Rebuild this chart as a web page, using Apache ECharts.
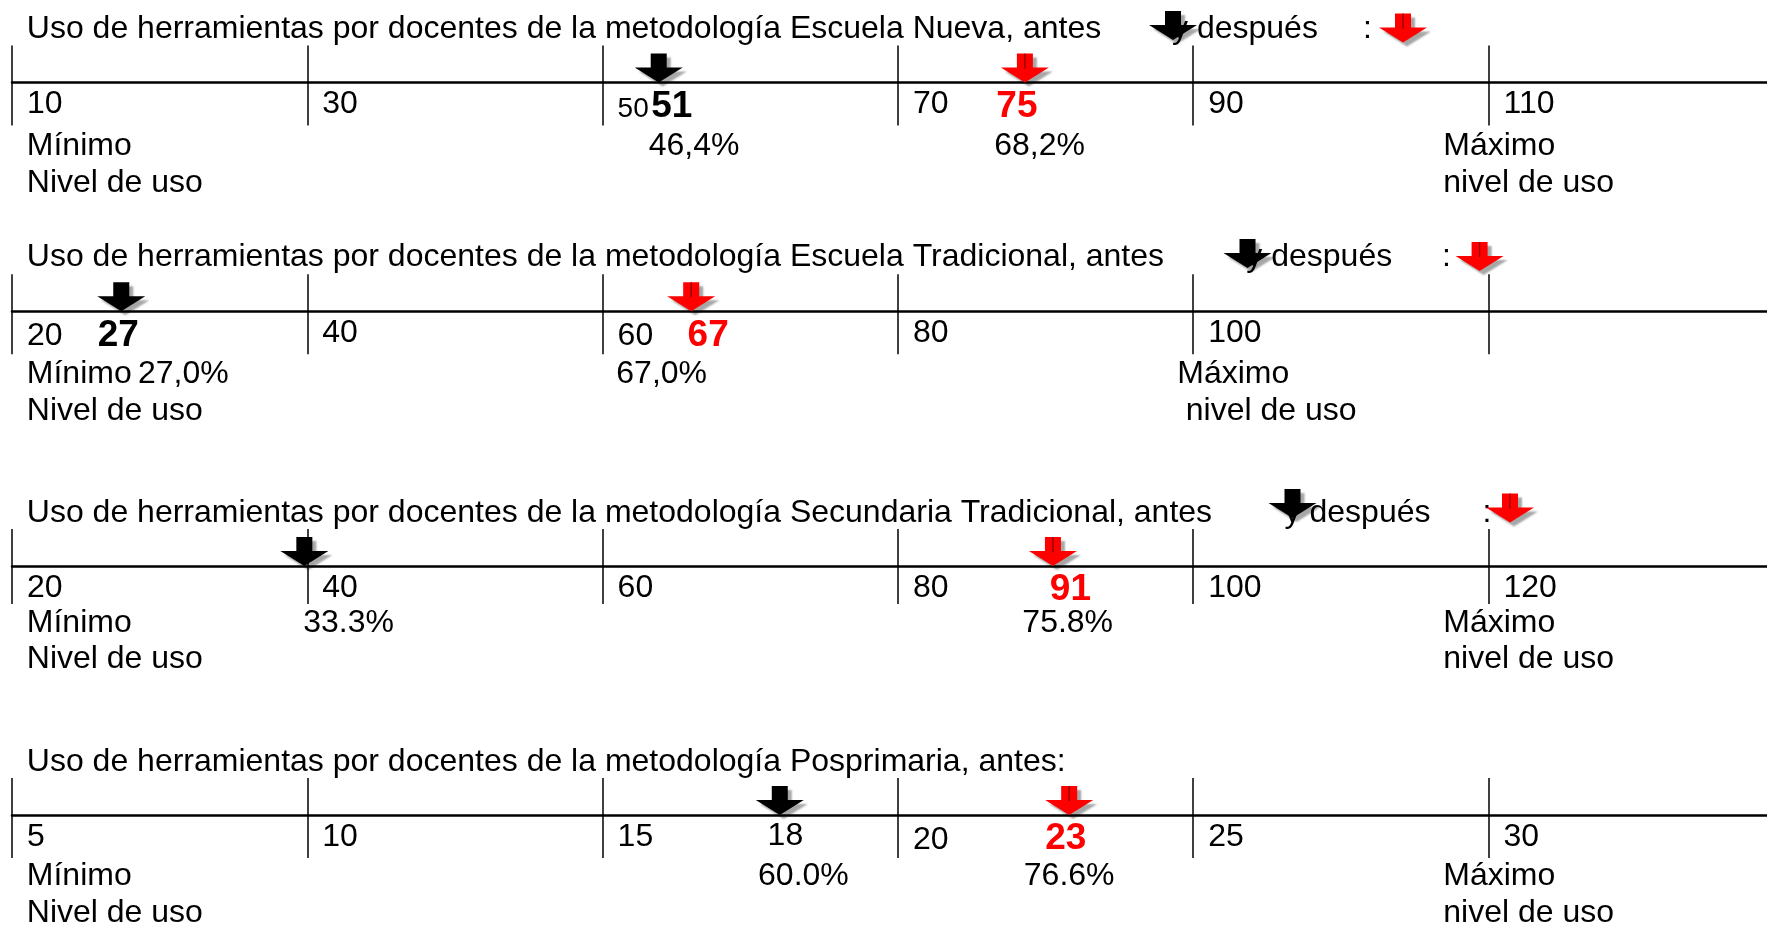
<!DOCTYPE html>
<html><head><meta charset="utf-8">
<script src="https://cdn.jsdelivr.net/npm/echarts@6/dist/echarts.min.js"></script>
<style>html,body{margin:0;padding:0;background:#fff}#c{width:1767px;height:925px}</style>
</head><body><div id="c"></div>
<script>
// ---------- data ----------
const panelTitles = [
  'Uso de herramientas por docentes de la metodología Escuela Nueva, antes',
  'Uso de herramientas por docentes de la metodología Escuela Tradicional, antes',
  'Uso de herramientas por docentes de la metodología Secundaria Tradicional, antes',
  'Uso de herramientas por docentes de la metodología Posprimaria, antes:'
];
const tickLabels = [
  ['10', '30', '50', '70', '90', '110'],
  ['20', '40', '60', '80', '100', ''],
  ['20', '40', '60', '80', '100', '120'],
  ['5', '10', '15', '20', '25', '30']
];
const beforeLabels = ['51', '27', '', '18'];
const afterLabels = ['75', '67', '91', '23'];
// where the arrows stand on each scale
const beforeArrowAt = [53.8, 27.4, 39.8, 18.0];
const afterArrowAt = [78.6, 66.0, 90.5, 22.9];
const beforePct = ['46,4%', '27,0%', '33.3%', '60.0%'];
const afterPct = ['68,2%', '67,0%', '75.8%', '76.6%'];
const beforePctAt = [56.2, 31.6, 42.8, 18.4];
const afterPctAt = [79.6, 64.0, 91.5, 22.9];
const minTexts = ['Mínimo', 'Nivel de uso'];
const maxTexts = ['Máximo', 'nivel de uso'];
const legendWords = ['y después', ':'];

// ---------- layout ----------
const FONT = '"Liberation Sans", Arial, Helvetica, sans-serif';
const FS = 32, FSB = 37;
const STEP_PX = 295.3, LEFT = 12, GRID_W = 1767 + 3 - LEFT;
const TX = 26.8;
const panels = [
  {title: 28.8,  top: 45.5,  axis: 82.5,  bot: 125.5, r1: 146.5, r2: 183.5, maxX: [1443.3, 1443.3],
   legend: {yX: 1172, cX: 1363, black: [1173, 11], red: [1403, 13.5]}, tickRich: {2: 'small'},
   beforeBold: true, labDx: [13, -8]},
  {title: 257.6, top: 274.3, axis: 311.3, bot: 354.3, r1: 374,   r2: 411.5, maxX: [1177.3, 1185.8],
   legend: {yX: 1246.3, cX: 1442, black: [1247.5, 239], red: [1479.6, 242]}, tickRich: {0: 'low', 2: 'low'},
   beforeBold: true, labDx: [-3, 17]},
  {title: 512.8, top: 529,   axis: 566,   bot: 604,   r1: 623,   r2: 659,   maxX: [1443.3, 1443.3],
   legend: {yX: 1284.6, cX: 1482.5, black: [1292.5, 489], red: [1510, 493.6]}, tickRich: {},
   beforeBold: true, labDx: [0, 17.5]},
  {title: 761.8, top: 778,   axis: 815,   bot: 858,   r1: 876.6, r2: 913.5, maxX: [1443.3, 1443.3],
   legend: null, tickRich: {3: 'low'}, beforeBold: false, labDx: [5.6, -3.4]}
];
const ARROW = 'path://M16,0L32,0L32,14L48,14L24,29L0,14L16,14Z';
const ARROW_W = 48, ARROW_H = 29;
const SHADOW = {shadowBlur: 2, shadowColor: 'rgba(0,0,0,0.35)', shadowOffsetX: 4, shadowOffsetY: 4};
const RED_LINE = 'rgba(110,0,0,0.8)';

function arrowPts(cx, top) {
  return [[cx - 8, top], [cx + 8, top], [cx + 8, top + 14], [cx + 24, top + 14],
          [cx, top + ARROW_H], [cx - 24, top + 14], [cx - 8, top + 14]];
}
function txt(text, x, y) {
  return {
    type: 'text', z: 10, silent: true,
    style: {
      text: text, x: x, y: y, fill: '#000', font: FS + 'px ' + FONT,
      textAlign: 'left', align: 'left', textVerticalAlign: 'middle', verticalAlign: 'middle'
    }
  };
}

const grids = [], xAxes = [], yAxes = [], series = [], graphics = [];

panels.forEach(function (L, p) {
  const labels = tickLabels[p];
  const t0 = +labels[0];
  const step = +labels[1] - +labels[0];
  const max = t0 + step * GRID_W / STEP_PX;

  grids.push({left: LEFT, width: GRID_W, top: L.top, height: L.bot - L.top, outerBoundsMode: 'none', containLabel: false});
  yAxes.push({gridIndex: p, type: 'value', min: -(L.bot - L.axis), max: L.axis - L.top, show: false});
  xAxes.push({
    gridIndex: p, type: 'value', min: t0, max: max, interval: step,
    axisLine: {show: true, onZero: true, lineStyle: {color: '#000', width: 2.5}},
    axisTick: {show: false},
    splitLine: {show: true, lineStyle: {color: '#000', width: 1.5}},
    axisLabel: {
      show: true, margin: -((L.bot - L.axis) - 21.8), align: 'left', verticalAlign: 'middle', padding: [0, 0, 0, 15],
      color: '#000', fontSize: FS, fontFamily: FONT, showMinLabel: true, showMaxLabel: false, hideOverlap: false,
      formatter: function (v) {
        const k = Math.round((v - t0) / step);
        if (Math.abs(v - (t0 + k * step)) > 1e-6 || k < 0 || k >= labels.length || !labels[k]) return '';
        const r = L.tickRich[k];
        return r ? '{' + r + '|' + labels[k] + '}' : labels[k];
      },
      rich: {
        small: {fontSize: 28, fontFamily: FONT, color: '#000', padding: [10, 0, 0, 0]},
        low: {fontSize: FS, fontFamily: FONT, color: '#000', padding: [6, 0, 0, 0]}
      }
    }
  });

  const base = {type: 'scatter', xAxisIndex: p, yAxisIndex: p, clip: false, silent: true, z: 5,
                emphasis: {disabled: true}};
  // before (black) arrow
  const bBold = L.beforeBold;
  series.push(Object.assign({}, base, {
    symbol: ARROW, symbolSize: [ARROW_W, ARROW_H], symbolOffset: [0, '-50%'],
    itemStyle: Object.assign({color: '#000', opacity: 1}, SHADOW),
    label: {
      show: !!beforeLabels[p], position: 'inside', offset: [L.labDx[0], ARROW_H / 2 + (bBold ? 24 : 21)],
      formatter: beforeLabels[p], color: '#000', fontFamily: FONT,
      fontSize: bBold ? FSB : FS, fontWeight: bBold ? 'bold' : 'normal'
    },
    data: [[beforeArrowAt[p], 0]]
  }));
  // after (red) arrow
  series.push(Object.assign({}, base, {
    symbol: ARROW, symbolSize: [ARROW_W, ARROW_H], symbolOffset: [0, '-50%'],
    itemStyle: Object.assign({color: '#ff0000', opacity: 1}, SHADOW),
    label: {
      show: true, position: 'inside', offset: [L.labDx[1], ARROW_H / 2 + 24],
      formatter: afterLabels[p], color: '#ff0000', fontFamily: FONT, fontSize: FSB, fontWeight: 'bold'
    },
    data: [[afterArrowAt[p], 0]]
  }));
  // thin shading line in the red arrow's shaft
  series.push(Object.assign({}, base, {
    z: 6, symbol: 'rect', symbolSize: [1.3, 15], symbolOffset: [0, -(ARROW_H - 7.5)],
    itemStyle: {color: RED_LINE, opacity: 1}, label: {show: false},
    data: [[afterArrowAt[p], 0]]
  }));
  // percentages
  series.push(Object.assign({}, base, {
    symbolSize: 0, itemStyle: {color: 'transparent', opacity: 1},
    label: {
      show: true, position: 'inside', offset: [0, L.r1 - L.axis],
      formatter: function (d) { return d.name; }, color: '#000', fontFamily: FONT, fontSize: FS
    },
    data: [
      {name: beforePct[p], value: [beforePctAt[p], 0]},
      {name: afterPct[p], value: [afterPctAt[p], 0]}
    ]
  }));

  // static texts
  graphics.push(txt(panelTitles[p], TX, L.title));
  graphics.push(txt(minTexts[0], TX, L.r1));
  graphics.push(txt(minTexts[1], TX, L.r2));
  graphics.push(txt(maxTexts[0], L.maxX[0], L.r1));
  graphics.push(txt(maxTexts[1], L.maxX[1], L.r2));
  if (L.legend) {
    const g = L.legend;
    graphics.push(txt(legendWords[0], g.yX, L.title));
    graphics.push(txt(legendWords[1], g.cX, L.title));
    graphics.push({type: 'polygon', z: 20, silent: true, shape: {points: arrowPts(g.black[0], g.black[1])},
      style: Object.assign({fill: '#000'}, SHADOW)});
    graphics.push({type: 'polygon', z: 20, silent: true, shape: {points: arrowPts(g.red[0], g.red[1])},
      style: Object.assign({fill: '#ff0000'}, SHADOW)});
    graphics.push({type: 'rect', z: 21, silent: true,
      shape: {x: g.red[0] - 0.65, y: g.red[1], width: 1.3, height: 15}, style: {fill: RED_LINE}});
  }
});

const chart = echarts.init(document.getElementById('c'), null, {renderer: 'canvas'});
chart.setOption({
  backgroundColor: '#ffffff',
  animation: false,
  grid: grids, xAxis: xAxes, yAxis: yAxes, series: series,
  graphic: {elements: graphics}
});
</script>
</body></html>
